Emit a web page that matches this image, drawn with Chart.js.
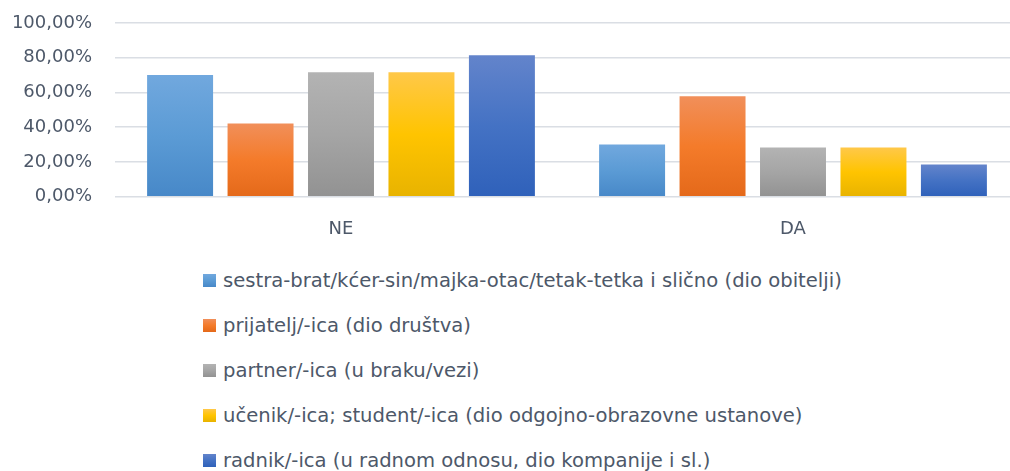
<!DOCTYPE html>
<html lang="hr">
<head>
<meta charset="utf-8">
<script src="https://cdn.jsdelivr.net/npm/chart.js@4"></script>
<style>
  html, body { margin: 0; padding: 0; background: #fff; overflow: hidden; width: 1010px; height: 471px; }
  #wrap { position: absolute; left: 0; top: 0; width: 1022px; height: 250px; }
  #legend { position: absolute; left: 203px; top: 258px; font-family: "DejaVu Sans", sans-serif; font-size: 19.6px; color: #4d5869; }
  .row { height: 45px; display: flex; align-items: center; white-space: nowrap; }
  .box { width: 13px; height: 13px; margin-right: 7px; flex: none; }
</style>
</head>
<body>
<div id="wrap"><canvas id="chart"></canvas></div>
<div id="legend"></div>
<script>
// Podaci (očitano s grafikona)
const kategorije = ['NE', 'DA'];
const nazivi = [
    'sestra-brat/kćer-sin/majka-otac/tetak-tetka i slično (dio obitelji)',
    'prijatelj/-ica (dio društva)',
    'partner/-ica (u braku/vezi)',
    'učenik/-ica; student/-ica (dio odgojno-obrazovne ustanove)',
    'radnik/-ica (u radnom odnosu, dio kompanije i sl.)'
];
const obitelj = [70.0, 30.0];
const prijatelj = [42.2, 57.8];
const partner = [71.7, 28.3];
const ucenik = [71.7, 28.3];
const radnik = [81.5, 18.5];
const yTicks = [0, 20, 40, 60, 80, 100];

// Boje (gornja / srednja / donja točka gradijenta)
const boje = [
    ['#71a8de', '#5b9bd5', '#4788c8'],
    ['#f18f5a', '#f47b2a', '#e4691a'],
    ['#b3b3b3', '#a5a5a5', '#929292'],
    ['#ffc849', '#ffc400', '#e8b300'],
    ['#6384cb', '#4472c4', '#2f61ba']
];
const tekstBoja = '#4d5869';
const font = { family: '"DejaVu Sans", sans-serif', size: 18 };

function barFill(stops) {
    return (ctx) => {
        const chart = ctx.chart;
        if (!chart.chartArea || ctx.type !== 'data') return stops[1];
        const y = chart.scales.y;
        const top = y.getPixelForValue(ctx.raw);
        const bottom = y.getPixelForValue(0);
        const g = chart.ctx.createLinearGradient(0, top, 0, bottom);
        g.addColorStop(0, stops[0]);
        g.addColorStop(0.5, stops[1]);
        g.addColorStop(1, stops[2]);
        return g;
    };
}

const serije = [obitelj, prijatelj, partner, ucenik, radnik];

new Chart(document.getElementById('chart'), {
    type: 'bar',
    data: {
        labels: kategorije,
        datasets: serije.map((data, i) => ({
            label: nazivi[i],
            data: data,
            backgroundColor: barFill(boje[i]),
            borderWidth: 0,
            barPercentage: 0.82,
            categoryPercentage: 0.89
        }))
    },
    options: {
        responsive: true,
        maintainAspectRatio: false,
        animation: false,
        layout: { padding: { top: 23, right: 3, left: 0, bottom: 0 } },
        plugins: { legend: { display: false }, tooltip: { enabled: false } },
        scales: {
            x: {
                grid: { display: false },
                border: { display: false },
                ticks: { color: tekstBoja, font: font, padding: 14 },
                afterFit: (s) => { s.height = 53.3; }
            },
            y: {
                min: 0,
                max: 100,
                afterBuildTicks: (s) => { s.ticks = yTicks.map(v => ({ value: v })); },
                grid: { color: '#dadee4', lineWidth: 1.5, drawTicks: false },
                border: { display: false },
                ticks: {
                    color: tekstBoja,
                    font: font,
                    padding: 23,
                    callback: v => v.toFixed(2).replace('.', ',') + '%'
                },
                afterFit: (s) => { s.width = 115; s.paddingTop = 0; s.paddingBottom = 0; }
            }
        }
    }
});

// Legenda
const legend = document.getElementById('legend');
nazivi.forEach((naziv, i) => {
    const row = document.createElement('div');
    row.className = 'row';
    row.innerHTML = `<span class="box" style="background:linear-gradient(${boje[i][0]},${boje[i][1]},${boje[i][2]})"></span><span>${naziv}</span>`;
    legend.appendChild(row);
});
</script>
</body>
</html>
